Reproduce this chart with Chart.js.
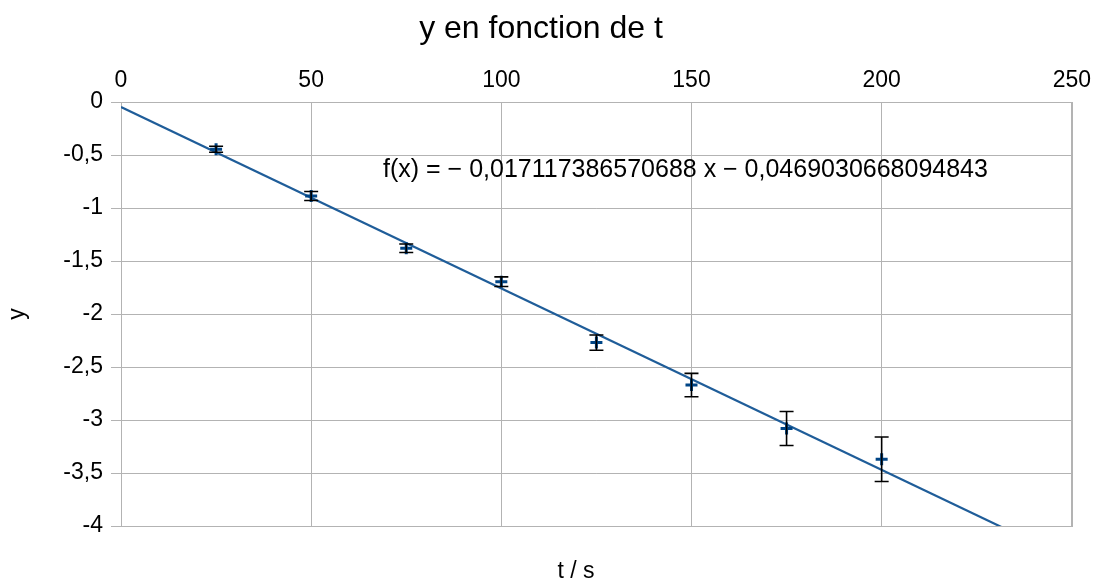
<!DOCTYPE html>
<html>
<head>
<meta charset="utf-8">
<script src="https://cdn.jsdelivr.net/npm/chart.js@4"></script>
<style>
  html, body { margin: 0; padding: 0; background: #fff; }
  #wrap { width: 1099px; height: 580px; }
</style>
</head>
<body>
<div id="wrap"><canvas id="chartId"></canvas></div>
<script>
// measured points (t in s, y) and their uncertainties
var tValues = [25, 50, 75, 100, 125, 150, 175, 200];
var yValues = [-0.446, -0.887, -1.38, -1.695, -2.27, -2.67, -3.08, -3.37];
var yErrors = [0.028, 0.042, 0.04, 0.045, 0.072, 0.11, 0.16, 0.21];

// linear trend line shown on the chart
var slope = -0.017117386570688;
var intercept = -0.0469030668094843;
var trendT = [0, 250];

var xTicks = [0, 50, 100, 150, 200, 250];
var yTicks = [0, -0.5, -1, -1.5, -2, -2.5, -3, -3.5, -4];

var chartTitle = 'y en fonction de t';
var xTitle = 't / s';
var yTitle = 'y';
var equationText = 'f(x) = \u2212 0,017117386570688 x \u2212 0,0469030668094843';

var font = '"Liberation Sans", Arial, sans-serif';
var gridColor = '#b3b3b3';

var points = tValues.map(function (t, i) { return { x: t, y: yValues[i] }; });
var trend = trendT.map(function (t) { return { x: t, y: slope * t + intercept }; });

// error bars + free text
var extras = {
  id: 'extras',
  beforeDatasetsDraw: function (chart) {
    // right border of the plot area
    var a = chart.chartArea, ctx = chart.ctx;
    ctx.save();
    ctx.strokeStyle = gridColor;
    ctx.lineWidth = 1;
    ctx.strokeRect(Math.round(a.left) + 0.5, Math.round(a.top) + 0.5, Math.round(a.right - a.left), Math.round(a.bottom - a.top));
    ctx.restore();
  },
  afterDatasetsDraw: function (chart) {
    var ctx = chart.ctx;
    var xs = chart.scales.x, ys = chart.scales.y;
    ctx.save();
    ctx.strokeStyle = '#000';
    ctx.lineWidth = 1.6;
    for (var i = 0; i < tValues.length; i++) {
      var px = xs.getPixelForValue(tValues[i]);
      var top = ys.getPixelForValue(yValues[i] + yErrors[i]);
      var bot = ys.getPixelForValue(yValues[i] - yErrors[i]);
      ctx.beginPath();
      ctx.moveTo(px, top); ctx.lineTo(px, bot);
      ctx.moveTo(px - 7, top); ctx.lineTo(px + 7, top);
      ctx.moveTo(px - 7, bot); ctx.lineTo(px + 7, bot);
      ctx.stroke();
    }
    ctx.restore();
  },
  afterDraw: function (chart) {
    var ctx = chart.ctx;
    ctx.save();
    ctx.fillStyle = '#000';
    ctx.textBaseline = 'middle';
    ctx.textAlign = 'center';
    ctx.font = '32px ' + font;
    ctx.fillText(chartTitle, 541, 29);
    ctx.font = '23px ' + font;
    ctx.fillText(xTitle, 576, 572);
    ctx.textAlign = 'left';
    ctx.font = '25px ' + font;
    ctx.fillText(equationText, 383, 170);
    ctx.restore();
  }
};

var chrt = document.getElementById('chartId').getContext('2d');
var chartId = new Chart(chrt, {
  type: 'scatter',
  data: {
    datasets: [
      {
        data: trend,
        showLine: true,
        borderColor: '#1f5d99',
        borderWidth: 2.2,
        pointRadius: 0,
        order: 2
      },
      {
        data: points,
        pointStyle: 'cross',
        pointRadius: 6,
        borderColor: '#004586',
        backgroundColor: '#004586',
        pointBorderWidth: 3,
        order: 1
      }
    ]
  },
  options: {
    responsive: true,
    maintainAspectRatio: false,
    animation: false,
    layout: { padding: { top: 60, left: 0, right: 24, bottom: 54 } },
    plugins: {
      legend: { display: false },
      tooltip: { enabled: false }
    },
    scales: {
      x: {
        type: 'linear',
        position: 'top',
        min: 0,
        max: 250,
        afterBuildTicks: function (scale) {
          scale.ticks = xTicks.map(function (v) { return { value: v }; });
        },
        afterFit: function (scale) { scale.height = 42; },
        grid: { color: gridColor, tickLength: 0, lineWidth: 1 },
        border: { color: gridColor },
        ticks: { color: '#000', padding: 8, maxRotation: 0, font: { family: font, size: 23 } }
      },
      y: {
        type: 'linear',
        min: -4,
        max: 0,
        afterBuildTicks: function (scale) {
          scale.ticks = yTicks.map(function (v) { return { value: v }; });
        },
        afterFit: function (scale) { scale.width = 121; },
        grid: { color: gridColor, tickLength: 10, lineWidth: 1 },
        border: { color: gridColor },
        title: {
          display: true,
          text: yTitle,
          color: '#000',
          font: { family: font, size: 23 },
          padding: { top: 4, bottom: 0 }
        },
        ticks: {
          color: '#000',
          padding: 8,
          font: { family: font, size: 23 },
          callback: function (v) { return String(v).replace('.', ','); }
        }
      }
    }
  },
  plugins: [extras]
});
</script>
</body>
</html>
